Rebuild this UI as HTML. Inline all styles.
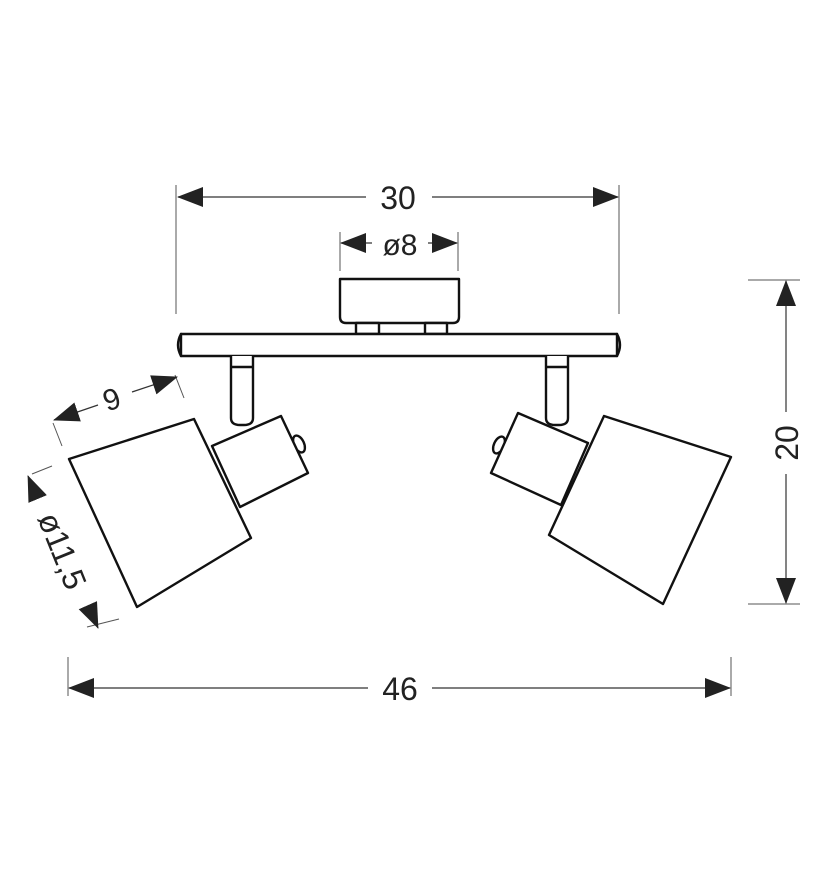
<!DOCTYPE html>
<html><head><meta charset="utf-8"><style>
html,body{margin:0;padding:0;background:#fff;}
svg{display:block}
text{font-family:"Liberation Sans",sans-serif;fill:#222;}
</style></head><body>
<svg width="828" height="886" viewBox="0 0 828 886" xmlns="http://www.w3.org/2000/svg">
<defs>
<marker id="a" viewBox="0 0 26 20" refX="25" refY="10" markerWidth="26" markerHeight="20" markerUnits="userSpaceOnUse" orient="auto-start-reverse">
<path d="M0,0 L26,10 L0,20 Z" fill="#222"/></marker>
</defs>
<g stroke="#555" stroke-width="1" fill="none">
<line x1="176" y1="185" x2="176" y2="314"/>
<line x1="619" y1="185" x2="619" y2="314"/>
<line x1="340" y1="232" x2="340" y2="271"/>
<line x1="458" y1="232" x2="458" y2="271"/>
<line x1="748" y1="280" x2="800" y2="280"/>
<line x1="748" y1="604" x2="800" y2="604"/>
<line x1="68" y1="657" x2="68" y2="696"/>
<line x1="731" y1="657" x2="731" y2="696"/>
<line x1="53" y1="423" x2="62" y2="446"/>
<line x1="175" y1="375" x2="184" y2="398"/>
<line x1="32" y1="474" x2="52" y2="466"/>
<line x1="87" y1="627" x2="119" y2="619"/>
</g>
<g stroke="#333" stroke-width="1.2" fill="none">
<line x1="178" y1="197" x2="366" y2="197" marker-start="url(#a)"/>
<line x1="432" y1="197" x2="618" y2="197" marker-end="url(#a)"/>
<line x1="341" y1="243" x2="372" y2="243" marker-start="url(#a)"/>
<line x1="428" y1="243" x2="457" y2="243" marker-end="url(#a)"/>
<line x1="786" y1="281" x2="786" y2="412" marker-start="url(#a)"/>
<line x1="786" y1="474" x2="786" y2="603" marker-end="url(#a)"/>
<line x1="69" y1="688" x2="368" y2="688" marker-start="url(#a)"/>
<line x1="432" y1="688" x2="730" y2="688" marker-end="url(#a)"/>
<line x1="54" y1="420" x2="98" y2="405" marker-start="url(#a)"/>
<line x1="132" y1="392" x2="177" y2="377" marker-end="url(#a)"/>
<line x1="28" y1="476" x2="36" y2="495" marker-start="url(#a)"/>
<line x1="90" y1="610" x2="98" y2="628" marker-end="url(#a)"/>
</g>
<text x="398" y="209" font-size="32" text-anchor="middle">30</text>
<text x="400" y="255" font-size="30" text-anchor="middle">ø8</text>
<text x="400" y="700" font-size="32" text-anchor="middle">46</text>
<text transform="translate(798,443) rotate(-90)" font-size="32" text-anchor="middle">20</text>
<text transform="translate(115,409) rotate(-19)" font-size="30" text-anchor="middle">9</text>
<text transform="translate(52,555) rotate(68)" font-size="32" text-anchor="middle">ø11,5</text>
<g stroke="#111" stroke-width="2.4" fill="#fff" stroke-linejoin="round">
<path d="M340,279 H459 V317 Q459,323 453,323 H346 Q340,323 340,317 Z"/>
<rect x="356" y="323" width="23" height="11"/>
<rect x="425" y="323" width="22" height="11"/>
<path d="M181,334 Q175,345 181,356 Z"/>
<path d="M617,334 Q623,345 617,356 Z"/>
<rect x="181" y="334" width="436" height="22"/>
<path d="M231,356 V418 Q231,425 240,425 H244 Q253,425 253,418 V356"/>
<line x1="231" y1="367" x2="253" y2="367"/>
<path d="M546,356 V418 Q546,425 555,425 H559 Q568,425 568,418 V356"/>
<line x1="546" y1="367" x2="568" y2="367"/>
<ellipse cx="299" cy="444" rx="5" ry="9" transform="rotate(-25 299 444)"/>
<polygon points="212,446 281,416 308,473 240,507"/>
<polygon points="69,459 194,419 251,538 137,607"/>
<ellipse cx="499" cy="445" rx="5" ry="9" transform="rotate(25 499 445)"/>
<polygon points="518,413 588,443 561,505 491,473"/>
<polygon points="604,416 731,457 663,604 549,535"/>
</g>
</svg>
</body></html>
